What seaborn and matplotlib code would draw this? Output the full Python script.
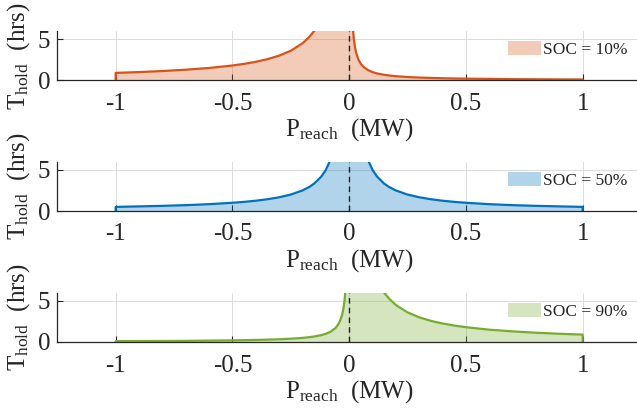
import matplotlib
matplotlib.use("Agg")
import matplotlib.pyplot as plt
import seaborn as sns
import pandas as pd
from matplotlib.patches import Patch

# ---- data ----
p_reach = [-1.0, -0.9, -0.8, -0.7, -0.6, -0.5, -0.45, -0.4, -0.35, -0.3, -0.25, -0.2,
           -0.17, -0.15, -0.12, -0.1, -0.08, -0.06, -0.05, -0.04, -0.03, -0.025, -0.02,
           -0.015, -0.01,
           0.01, 0.015, 0.02, 0.025, 0.03, 0.04, 0.05, 0.06, 0.08, 0.1, 0.12, 0.15,
           0.17, 0.2, 0.25, 0.3, 0.35, 0.4, 0.45, 0.5, 0.6, 0.7, 0.8, 0.9, 1.0]

t_soc10 = [0.9, 1.0, 1.125, 1.29, 1.5, 1.8, 2.0, 2.25, 2.57, 3.0, 3.6, 4.5,
           5.3, 6.0, 7.5, 9.0, 11.25, 15.0, 18.0, 22.5, 30.0, 36.0, 45.0, 60.0, 90.0,
           10.0, 6.67, 5.0, 4.0, 3.33, 2.5, 2.0, 1.67, 1.25, 1.0, 0.83, 0.67,
           0.59, 0.5, 0.4, 0.33, 0.29, 0.25, 0.22, 0.2, 0.17, 0.14, 0.125, 0.11, 0.1]

t_soc50 = [0.5, 0.56, 0.625, 0.71, 0.83, 1.0, 1.11, 1.25, 1.43, 1.67, 2.0, 2.5,
           2.94, 3.33, 4.17, 5.0, 6.25, 8.33, 10.0, 12.5, 16.7, 20.0, 25.0, 33.0, 50.0,
           50.0, 33.0, 25.0, 20.0, 16.7, 12.5, 10.0, 8.33, 6.25, 5.0, 4.17, 3.33,
           2.94, 2.5, 2.0, 1.67, 1.43, 1.25, 1.11, 1.0, 0.83, 0.71, 0.625, 0.56, 0.5]

t_soc90 = [0.1, 0.11, 0.125, 0.14, 0.17, 0.2, 0.22, 0.25, 0.29, 0.33, 0.4, 0.5,
           0.59, 0.67, 0.83, 1.0, 1.25, 1.67, 2.0, 2.5, 3.33, 4.0, 5.0, 6.67, 10.0,
           90.0, 60.0, 45.0, 36.0, 30.0, 22.5, 18.0, 15.0, 11.25, 9.0, 7.5, 6.0,
           5.3, 4.5, 3.6, 3.0, 2.57, 2.25, 2.0, 1.8, 1.5, 1.29, 1.125, 1.0, 0.9]

soc_labels = ["SOC = 10%", "SOC = 50%", "SOC = 90%"]
x_ticks = [-1, -0.5, 0, 0.5, 1]
x_tick_labels = ["-1", "-0.5", "0", "0.5", "1"]
y_ticks = [0, 5]
y_tick_labels = ["0", "5"]

# ---- style ----
sns.set_style("ticks")
plt.rcParams["font.family"] = ["Liberation Serif", "DejaVu Serif"]
plt.rcParams["mathtext.fontset"] = "custom"
plt.rcParams["mathtext.rm"] = "Liberation Serif"
plt.rcParams["mathtext.it"] = "Liberation Serif:italic"
plt.rcParams["axes.unicode_minus"] = False

line_colors = ["#D95319", "#0072BD", "#77AC30"]
series = [t_soc10, t_soc50, t_soc90]

fig = plt.figure(figsize=(6.37, 4.13), dpi=100)
W, H = 637.0, 413.0
left_px = 57.3
width_px = 583.75
tops = [31.0, 161.7, 292.7]
ax_h = 49.3

for i, (t_vals, col, lab) in enumerate(zip(series, line_colors, soc_labels)):
    top = tops[i]
    ax = fig.add_axes([left_px / W, 1 - (top + ax_h) / H, width_px / W, ax_h / H])
    ax.fill_between(p_reach, 0, t_vals, color=col, alpha=0.3, linewidth=0)
    line_x = [p_reach[0]] + p_reach + [p_reach[-1]]
    line_y = [0] + t_vals + [0]
    df = pd.DataFrame({"P": line_x, "T": line_y})
    sns.lineplot(data=df, x="P", y="T", ax=ax, color=col, linewidth=1.6,
                 estimator=None, sort=False, legend=False)
    ax.axvline(0, color="#222222", linestyle=(0, (4, 3)), linewidth=1.0)
    ax.set_xlim(-1.25, 1.25)
    ax.set_ylim(0, 6)
    ax.set_xticks(x_ticks)
    ax.set_xticklabels(x_tick_labels)
    ax.set_yticks(y_ticks)
    ax.set_yticklabels(y_tick_labels)
    ax.tick_params(direction="in", length=4, width=0.8, labelsize=18)
    ax.tick_params(axis="x", pad=9)
    ax.tick_params(axis="y", pad=5)
    ax.grid(True, color="#dcdcdc", linewidth=0.7)
    ax.set_axisbelow(True)
    for s in ["top", "right"]:
        ax.spines[s].set_visible(False)
    for s in ["left", "bottom"]:
        ax.spines[s].set_linewidth(0.9)
        ax.spines[s].set_color("#262626")
    ax.set_xlabel(r"P$_{\mathrm{reach}}$  (MW)", fontsize=18, labelpad=1)
    ax.set_ylabel(r"T$_{\mathrm{hold}}$  (hrs)", fontsize=18, labelpad=4)
    handle = Patch(facecolor=col, alpha=0.3, edgecolor="none")
    ax.legend([handle], [lab], loc="upper right", frameon=False, fontsize=12.5,
              handlelength=1.9, handleheight=0.85, handletextpad=0.15,
              borderaxespad=0.2, bbox_to_anchor=(0.995, 1.0))

fig.savefig("out.png", dpi=100)
